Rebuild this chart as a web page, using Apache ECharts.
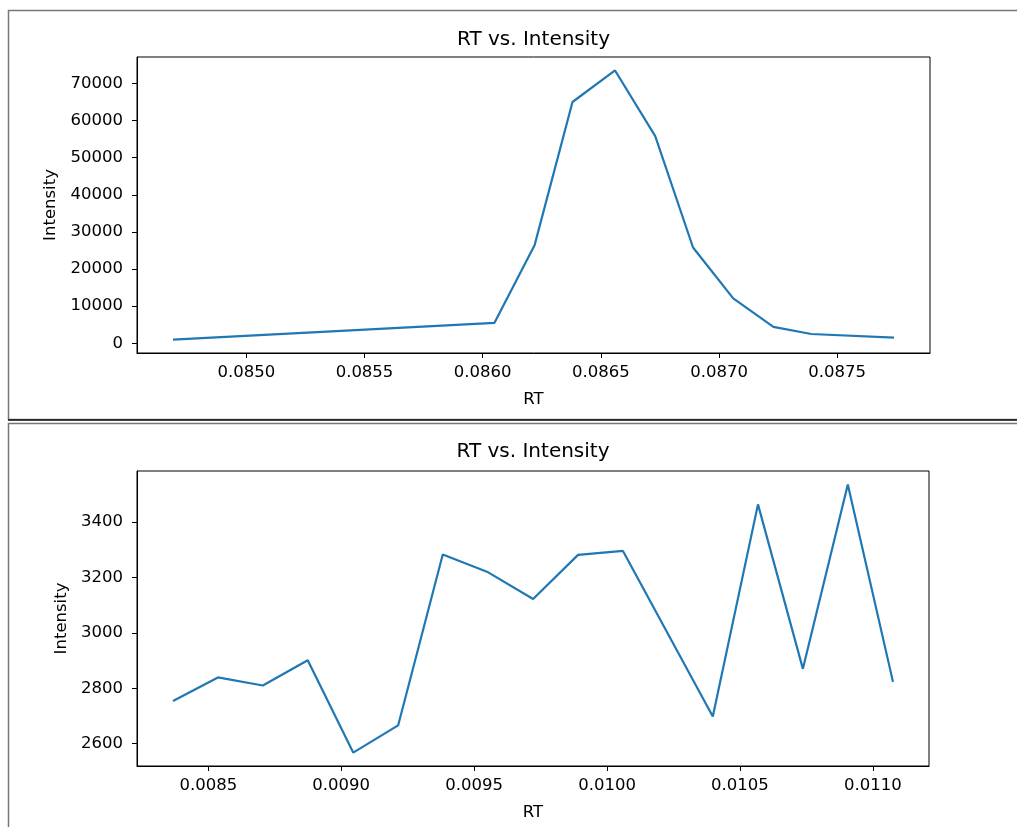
<!DOCTYPE html>
<html>
<head>
<meta charset="utf-8">
<script src="https://cdn.jsdelivr.net/npm/echarts@6/dist/echarts.min.js"></script>
<style>
html,body{margin:0;padding:0;background:#fff;}
#chart{width:1017px;height:827px;}
</style>
</head>
<body>
<div id="chart"></div>
<script>
// ---- data ----
const titleText = 'RT vs. Intensity';
const xName = 'RT';
const yName = 'Intensity';

const rtTop = [0.08469, 0.08605, 0.08622, 0.08638, 0.08656, 0.08673, 0.08689, 0.08706, 0.08723, 0.08739, 0.08774];
const intensityTop = [1000, 5500, 26500, 65000, 73500, 55800, 25800, 12100, 4400, 2500, 1500];
const xTicksTop = [0.0850, 0.0855, 0.0860, 0.0865, 0.0870, 0.0875];
const yTicksTop = [0, 10000, 20000, 30000, 40000, 50000, 60000, 70000];

const rtBottom = [0.008367, 0.008536, 0.008705, 0.008874, 0.009045, 0.009214, 0.009382, 0.009553, 0.009722, 0.009891, 0.010060, 0.010398, 0.010568, 0.010737, 0.010906, 0.011076];
const intensityBottom = [2754, 2839, 2810, 2901, 2568, 2666, 3282, 3218, 3122, 3281, 3295, 2698, 3463, 2870, 3535, 2823];
const xTicksBottom = [0.0085, 0.0090, 0.0095, 0.0100, 0.0105, 0.0110];
const yTicksBottom = [2600, 2800, 3000, 3200, 3400];

// ---- helpers ----
function padRange(arr) {
  const mn = Math.min.apply(null, arr), mx = Math.max.apply(null, arr);
  const m = (mx - mn) * 0.05;
  return [mn - m, mx + m];
}
const FONT = 'DejaVu Sans';
const TICK_FS = 16.5;
const LINE_COLOR = '#1f77b4';

function xAxisDef(gi, ticks, range) {
  return {
    type: 'value', gridIndex: gi, min: range[0], max: range[1],
    name: xName, nameLocation: 'middle', nameGap: 38,
    nameTextStyle: {fontFamily: FONT, fontSize: TICK_FS, color: '#000'},
    axisLine: {show: true, onZero: false, lineStyle: {color: '#000', width: 1}},
    axisTick: {show: true, length: 5, lineStyle: {color: '#000', width: 1}, customValues: ticks},
    axisLabel: {show: true, margin: 11, fontFamily: FONT, fontSize: TICK_FS, color: '#000',
      customValues: ticks, formatter: v => Number(v).toFixed(4)},
    splitLine: {show: false}
  };
}
function yAxisDef(gi, ticks, range, gap) {
  return {
    type: 'value', gridIndex: gi, min: range[0], max: range[1],
    name: yName, nameLocation: 'middle', nameGap: gap,
    nameTextStyle: {fontFamily: FONT, fontSize: TICK_FS, color: '#000'},
    axisLine: {show: true, onZero: false, lineStyle: {color: '#000', width: 1}},
    axisTick: {show: true, length: 5, lineStyle: {color: '#000', width: 1}, customValues: ticks},
    axisLabel: {show: true, margin: 14, fontFamily: FONT, fontSize: TICK_FS, color: '#000',
      customValues: ticks, formatter: v => String(Math.round(v))},
    splitLine: {show: false}
  };
}

const chart = echarts.init(document.getElementById('chart'), null, {renderer: 'canvas'});
const option = {
  animation: false,
  backgroundColor: '#fff',
  grid: [
    {left: 137, top: 57, width: 793, height: 296, show: true, borderColor: '#000', borderWidth: 1, containLabel: false},
    {left: 137, top: 471, width: 792, height: 295, show: true, borderColor: '#000', borderWidth: 1, containLabel: false}
  ],
  xAxis: [
    xAxisDef(0, xTicksTop, padRange(rtTop)),
    xAxisDef(1, xTicksBottom, padRange(rtBottom))
  ],
  yAxis: [
    yAxisDef(0, yTicksTop, padRange(intensityTop), 77),
    yAxisDef(1, yTicksBottom, padRange(intensityBottom), 65)
  ],
  series: [
    {type: 'line', xAxisIndex: 0, yAxisIndex: 0, data: rtTop.map((x, i) => [x, intensityTop[i]]),
      showSymbol: false, symbol: 'none', lineStyle: {color: LINE_COLOR, width: 2.2}, itemStyle: {color: LINE_COLOR}},
    {type: 'line', xAxisIndex: 1, yAxisIndex: 1, data: rtBottom.map((x, i) => [x, intensityBottom[i]]),
      showSymbol: false, symbol: 'none', lineStyle: {color: LINE_COLOR, width: 2.2}, itemStyle: {color: LINE_COLOR}}
  ],
  graphic: [
    {type: 'rect', silent: true, shape: {x: 8.5, y: 10.5, width: 1030, height: 409}, style: {fill: 'none', stroke: '#777', lineWidth: 1.5}},
    {type: 'line', silent: true, shape: {x1: 8, y1: 420, x2: 1017, y2: 420}, style: {stroke: '#111', lineWidth: 1.5}},
    {type: 'rect', silent: true, shape: {x: 8.5, y: 423.5, width: 1030, height: 420}, style: {fill: 'none', stroke: '#777', lineWidth: 1.5}},
    {type: 'text', silent: true, x: 533.5, y: 40, style: {text: titleText, fontFamily: FONT, fontSize: 20, fill: '#000', textAlign: 'center', textVerticalAlign: 'middle'}},
    {type: 'text', silent: true, x: 533, y: 452, style: {text: titleText, fontFamily: FONT, fontSize: 20, fill: '#000', textAlign: 'center', textVerticalAlign: 'middle'}}
  ]
};
chart.setOption(option);
</script>
</body>
</html>
